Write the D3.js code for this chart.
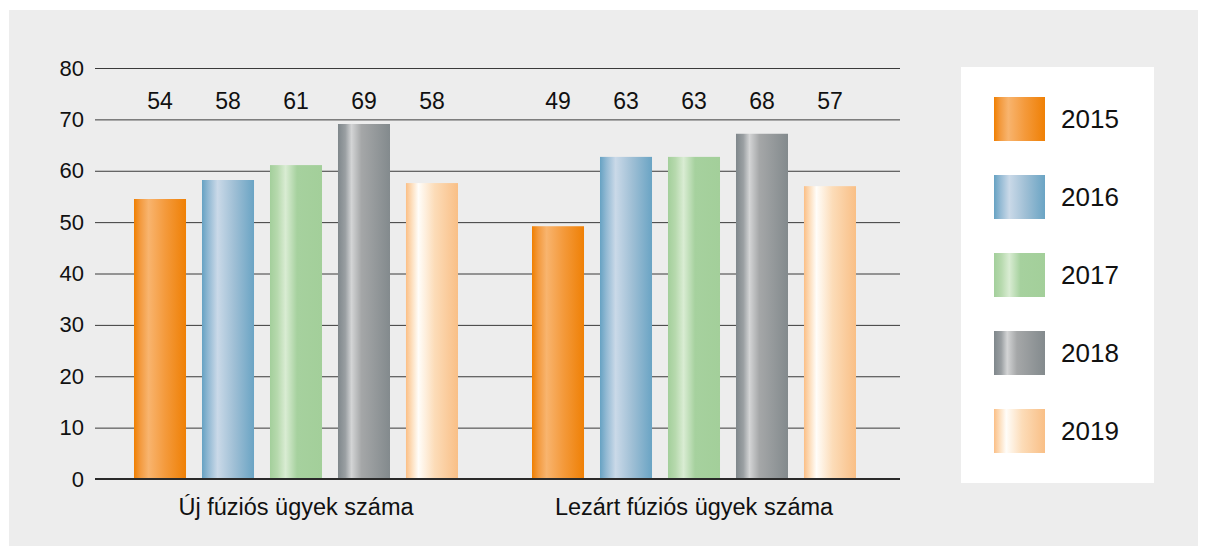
<!DOCTYPE html>
<html>
<head>
<meta charset="utf-8">
<script src="https://cdn.jsdelivr.net/npm/d3@7"></script>
<style>
    body { margin: 0; background: #ffffff; }
    text { font-family: "Liberation Sans", Arial, sans-serif; fill: #111; }
</style>
</head>
<body>
<div id="chart"></div>
<script>
// Chart data
const categories = ['Új fúziós ügyek száma', 'Lezárt fúziós ügyek száma'];
const years = ['2015', '2016', '2017', '2018', '2019'];
const values = {
    'Új fúziós ügyek száma': [54.5, 58.2, 61.1, 69.1, 57.6],
    'Lezárt fúziós ügyek száma': [49.2, 62.7, 62.7, 67.2, 57.0]
};
const valueLabels = {
    'Új fúziós ügyek száma': ['54', '58', '61', '69', '58'],
    'Lezárt fúziós ügyek száma': ['49', '63', '63', '68', '57']
};
const yTicks = [0, 10, 20, 30, 40, 50, 60, 70, 80];

// Gradient stops per year (edge, highlight, middle, edge)
const yearGradients = {
    '2015': [['0%', '#f07f00'], ['12%', '#f39a3e'], ['28%', '#f8b46e'], ['60%', '#f49a3c'], ['100%', '#ef8005']],
    '2016': [['0%', '#66a2c3'], ['12%', '#92b9d3'], ['30%', '#cad9e8'], ['62%', '#9fbfd5'], ['100%', '#6aa4c4']],
    '2017': [['0%', '#a3cf9b'], ['14%', '#b6d9ad'], ['30%', '#d9ecd3'], ['52%', '#a6d19e'], ['100%', '#a3cf9a']],
    '2018': [['0%', '#7f878b'], ['14%', '#9a9fa2'], ['26%', '#d3d4d5'], ['45%', '#a5a7a8'], ['100%', '#838a8d']],
    '2019': [['0%', '#fbbf86'], ['12%', '#fde0c0'], ['24%', '#fffdf9'], ['55%', '#fcdcb8'], ['100%', '#f9bf86']]
};

const width = 1208;
const height = 556;
const margin = { top: 68, left: 95, right: 308, bottom: 77 };
const plotRight = width - margin.right;
const plotBottom = height - margin.bottom;

const svg = d3.select('#chart')
    .append('svg')
    .attr('width', width)
    .attr('height', height);

// Gray panel
svg.append('rect')
    .attr('x', 9)
    .attr('y', 10)
    .attr('width', 1189)
    .attr('height', 536)
    .attr('fill', '#ededed');

// Gradients
const defs = svg.append('defs');
years.forEach(y => {
    const g = defs.append('linearGradient')
        .attr('id', 'grad' + y)
        .attr('x1', '0%').attr('x2', '100%')
        .attr('y1', '0%').attr('y2', '0%');
    yearGradients[y].forEach(s => {
        g.append('stop').attr('offset', s[0]).attr('stop-color', s[1]);
    });
});

// Scales
const yScale = d3.scaleLinear()
    .domain([0, 80])
    .range([plotBottom, margin.top]);

const xScale = d3.scaleBand()
    .domain(categories)
    .range([97, 893]);

const innerScale = d3.scaleBand()
    .domain(years)
    .range([-162, 162])
    .paddingInner(0.235);

// Grid lines
svg.append('g')
    .selectAll('line')
    .data(yTicks.filter(d => d > 0))
    .enter()
    .append('line')
    .attr('x1', margin.left)
    .attr('x2', plotRight)
    .attr('y1', d => yScale(d) + 0.5)
    .attr('y2', d => yScale(d) + 0.5)
    .attr('stroke', '#3a3a3a')
    .attr('stroke-width', 1);

// Y axis labels
const yAxis = d3.axisLeft(yScale)
    .tickValues(yTicks)
    .tickSize(0)
    .tickPadding(11);
const yAxisG = svg.append('g')
    .attr('transform', `translate(${margin.left}, 0)`)
    .call(yAxis);
yAxisG.select('.domain').remove();
yAxisG.selectAll('text')
    .style('font-size', '22px')
    .style('font-family', '"Liberation Sans", Arial, sans-serif')
    .attr('fill', '#111');

// Bars
categories.forEach(cat => {
    const cx = xScale(cat) + xScale.bandwidth() / 2;
    const group = svg.append('g')
        .attr('transform', `translate(${cx}, 0)`);

    group.selectAll('rect')
        .data(years)
        .enter()
        .append('rect')
        .attr('x', d => innerScale(d))
        .attr('y', (d, i) => yScale(values[cat][i]))
        .attr('width', innerScale.bandwidth())
        .attr('height', (d, i) => plotBottom - yScale(values[cat][i]))
        .attr('fill', d => `url(#grad${d})`);

    // Value labels
    group.selectAll('text.value')
        .data(years)
        .enter()
        .append('text')
        .attr('class', 'value')
        .attr('x', d => innerScale(d) + innerScale.bandwidth() / 2)
        .attr('y', 109)
        .attr('text-anchor', 'middle')
        .style('font-size', '23px')
        .text((d, i) => valueLabels[cat][i]);

    // Category label
    svg.append('text')
        .attr('x', cx)
        .attr('y', 515)
        .attr('text-anchor', 'middle')
        .style('font-size', '23.5px')
        .text(cat);
});

// Zero line
svg.append('line')
    .attr('x1', margin.left)
    .attr('x2', plotRight)
    .attr('y1', plotBottom)
    .attr('y2', plotBottom)
    .attr('stroke', '#2a2a2a')
    .attr('stroke-width', 2);

// Legend
const legend = svg.append('g')
    .attr('transform', 'translate(961, 67)');

legend.append('rect')
    .attr('width', 193)
    .attr('height', 416)
    .attr('fill', '#ffffff');

const legendItems = legend.selectAll('g.item')
    .data(years)
    .enter()
    .append('g')
    .attr('class', 'item')
    .attr('transform', (d, i) => `translate(33, ${30 + i * 78})`);

legendItems.append('rect')
    .attr('width', 51)
    .attr('height', 44)
    .attr('fill', d => `url(#grad${d})`);

legendItems.append('text')
    .attr('x', 67)
    .attr('y', 31)
    .style('font-size', '26px')
    .text(d => d);
</script>
</body>
</html>
